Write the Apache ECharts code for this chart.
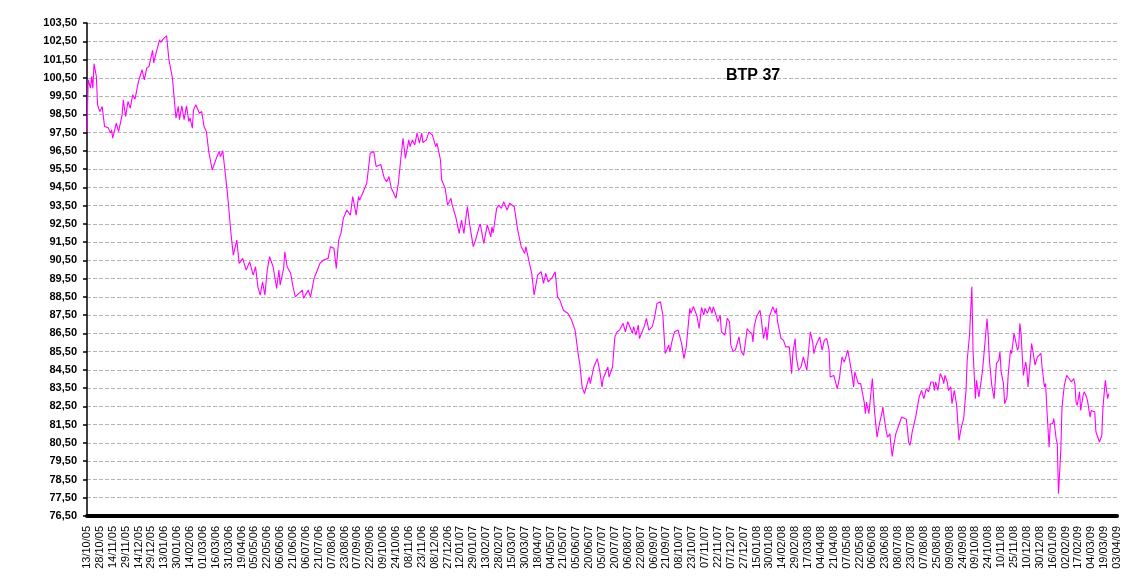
<!DOCTYPE html>
<html>
<head>
<meta charset="utf-8">
<script src="https://cdn.jsdelivr.net/npm/echarts@6/dist/echarts.min.js"></script>
<style>
html,body{margin:0;padding:0;background:#fff;}
#chart{width:1123px;height:586px;}
</style>
</head>
<body>
<div id="chart"></div>
<script>
// Tick labels (one every 11 trading days)
const tickLabels = ["13/10/05","28/10/05","14/11/05","29/11/05","14/12/05","29/12/05","13/01/06","30/01/06","14/02/06","01/03/06","16/03/06","31/03/06","19/04/06","05/05/06","22/05/06","06/06/06","21/06/06","06/07/06","21/07/06","07/08/06","23/08/06","07/09/06","22/09/06","09/10/06","24/10/06","08/11/06","23/11/06","08/12/06","27/12/06","12/01/07","29/01/07","13/02/07","28/02/07","15/03/07","30/03/07","18/04/07","04/05/07","21/05/07","05/06/07","20/06/07","05/07/07","20/07/07","06/08/07","22/08/07","06/09/07","21/09/07","08/10/07","23/10/07","07/11/07","22/11/07","07/12/07","27/12/07","15/01/08","30/01/08","14/02/08","29/02/08","17/03/08","04/04/08","21/04/08","07/05/08","22/05/08","06/06/08","23/06/08","08/07/08","23/07/08","07/08/08","25/08/08","09/09/08","24/09/08","09/10/08","24/10/08","10/11/08","25/11/08","10/12/08","30/12/08","16/01/09","02/02/09","17/02/09","04/03/09","19/03/09","03/04/09"];
const title = "BTP 37";

// [trading-day index, price]
const prices2005 = [[0,97.52],[1,100.39],[3,99.93],[4,100.57],[5,99.93],[6,101.27],[8,100.57],[9,99.02],[11,98.65],[13,98.93],[15,97.83],[18,97.77],[20,97.47],[21,97.65],[22,97.19],[25,98.01],[27,97.55],[30,98.47],[31,99.29],[33,98.38],[35,99.2],[37,98.84],[39,99.57],[41,99.33],[44,100.3],[47,100.94],[49,100.39],[51,101.03],[53,101.12],[56,102.0],[57,101.31],[59,101.85],[62,102.58],[63,102.44],[65,102.62],[68,102.8]];
const prices2006a = [[70,101.49],[73,100.48],[76,98.29],[78,98.93],[79,98.2],[81,98.96],[83,98.2],[85,98.96],[87,98.1],[88,98.3],[90,97.74],[91,98.74],[93,99.02],[96,98.56],[98,98.65],[100,97.83],[102,97.55],[104,96.46],[107,95.45],[109,95.82],[111,96.18],[113,96.46],[114,96.18],[116,96.5],[120,94.17],[121,93.44],[123,91.98],[125,90.79],[128,91.61],[130,90.33],[133,90.61],[136,89.97],[139,90.42],[142,89.69],[144,90.15],[146,89.05],[148,88.6],[150,89.33],[152,88.6],[154,89.97],[156,90.7],[159,90.15],[162,88.96],[164,89.97],[165,89.15],[168,90.06],[169,90.97],[171,90.15],[174,89.79],[176,89.05],[178,88.5],[181,88.69],[184,88.87],[185,88.42],[189,88.87],[191,88.5],[194,89.51],[195,89.42],[199,90.33],[202,90.52],[206,90.61],[208,91.25],[211,91.16],[213,90.06],[215,91.61],[217,91.98],[219,92.8],[220,92.9],[222,93.26],[225,92.98],[227,93.99],[230,92.98],[232,93.99],[233,93.8],[236,94.26],[239,94.72],[242,96.37],[245,96.46],[247,95.64]];
const prices2006b = [[251,95.75],[254,95.0],[256,94.81],[258,95.09],[260,94.45],[264,93.9],[266,94.72],[268,96.0],[270,97.19],[272,96.09],[275,97.1],[276,96.73],[278,97.1],[280,96.82],[282,97.47],[284,96.92],[286,97.47],[287,96.95],[290,97.1],[292,97.52],[295,97.37],[298,96.73],[299,96.92],[302,96.0],[303,94.9],[306,94.45],[308,93.53],[311,93.9],[312,93.53],[315,92.89],[318,91.98],[320,92.71],[322,91.98],[325,93.44],[327,92.44],[330,91.25],[332,91.61],[335,92.34],[336,92.5],[339,91.43],[342,92.44],[345,91.79],[346,92.34],[347,92.0],[350,93.35],[352,93.53],[354,93.35],[356,93.71],[359,93.26],[361,93.63],[365,93.44]];
const prices2007 = [[368,92.16],[371,91.25],[374,90.88],[375,91.25],[378,90.33],[380,89.79],[382,88.6],[383,88.7],[385,89.69],[388,89.88],[390,89.24],[392,89.79],[394,89.33],[397,89.51],[398,89.42],[400,89.88],[402,88.5],[404,88.32],[407,87.77],[411,87.59],[414,87.23],[417,86.68],[420,85.21],[421,84.85],[423,83.57],[425,83.2],[427,83.66],[429,84.11],[430,83.75],[433,84.66],[436,85.12],[438,84.48],[440,83.57],[441,84.02],[445,84.66],[446,84.11],[449,84.66],[451,86.31],[453,86.59],[455,86.68],[458,87.05],[460,86.59],[462,87.14],[463,87.05],[466,86.5],[467,86.87],[469,86.41],[471,86.96],[472,86.22],[476,86.87],[478,87.32],[480,86.68],[483,86.87],[485,87.41],[487,88.14],[490,88.23],[492,87.5],[494,85.4],[497,85.86],[498,85.49],[500,86.13],[502,86.59],[505,86.68],[508,85.95],[510,85.12],[512,85.76],[515,87.87],[516,87.6],[518,87.97],[521,87.48],[522,87.4],[523,86.77],[525,87.92],[527,87.5],[528,87.87],[530,87.6],[532,87.96],[534,87.6],[535,87.96],[537,87.59],[539,87.14],[541,87.5],[542,86.59],[545,86.41],[547,87.32],[549,87.14],[550,85.87],[552,85.5],[554,85.6],[557,86.31],[559,85.5],[561,85.3],[563,86.22],[564,86.77],[566,86.59],[568,86.5],[569,86.03],[570,86.86],[572,87.42],[573,87.5],[575,87.77],[576,87.32],[578,86.22],[580,86.86],[581,86.13]];
const prices2008 = [[583,87.42],[586,87.97],[588,87.6],[589,87.87],[590,87.14],[593,86.22],[595,86.13],[597,85.76],[600,85.76],[602,84.3],[603,85.4],[605,86.22],[606,85.2],[608,84.48],[610,84.66],[612,85.21],[615,84.48],[618,86.59],[620,86.03],[621,85.4],[623,85.87],[626,86.31],[628,85.58],[630,86.13],[632,86.22],[634,85.58],[635,84.11],[638,84.2],[641,83.48],[643,84.11],[645,85.21],[647,84.93],[650,85.58],[651,85.67],[653,84.48],[655,83.57],[656,84.39],[659,83.75],[661,83.75],[664,82.74],[665,82.1],[666,82.74],[668,82.1],[671,84.03],[673,82.1],[675,80.82],[677,81.55],[679,82.1],[680,82.46],[681,81.92],[683,81.1],[684,80.82],[686,81.0],[687,80.27],[688,79.76],[689,80.27],[690,80.2],[691,81.0],[692,81.0],[694,81.55],[696,81.92],[697,81.92],[700,81.8],[701,81.2],[702,80.55],[703,80.37],[704,80.64],[705,81.1],[706,81.0],[708,81.92],[710,82.65],[711,83.02],[713,83.38],[715,82.93],[717,83.48],[719,83.3],[721,83.84],[723,83.84],[724,83.38],[725,83.84],[727,83.38],[729,84.3],[731,84.03],[732,83.75],[733,84.2],[735,83.84],[736,83.38],[738,83.57],[739,82.65],[741,83.38],[743,82.56],[745,80.64],[746,80.64],[747,81.37],[749,81.83],[750,81.74],[751,83.38],[752,85.03],[754,86.4],[756,89.05],[757,85.58],[759,82.93],[760,83.93],[762,83.02],[765,84.39],[766,84.48],[767,85.86],[769,87.32],[770,86.31],[771,85.03],[773,83.66],[775,82.93],[777,84.85],[779,85.03],[780,85.49],[781,84.39],[783,83.75],[784,82.65],[786,83.02],[787,84.2],[789,85.58],[790,85.4],[792,86.5],[793,86.4],[795,85.58],[796,85.76],[797,87.05],[798,86.5],[800,84.2],[802,84.93],[803,84.48],[804,83.57],[806,85.12],[807,85.95],[808,85.58],[810,84.76],[812,85.21],[813,85.12],[815,85.4],[816,84.66],[818,83.57],[819,83.75],[820,82.46]];
const prices2009 = [[822,80.27],[823,81.55],[825,81.55],[826,81.83],[828,80.73],[829,80.46],[830,77.72],[832,80.1],[833,82.46],[835,83.66],[836,83.57],[837,84.2],[839,84.03],[841,83.84],[843,84.03],[844,83.75],[845,82.74],[846,82.56],[848,83.3],[849,82.28],[851,83.11],[852,83.3],[854,83.02],[855,82.74],[857,81.92],[858,82.28],[861,82.19],[862,81.1],[865,80.55],[867,80.91],[868,82.46],[870,83.93],[872,82.93],[873,83.2]];

const seriesData = [].concat(prices2005, prices2006a, prices2006b, prices2007, prices2008, prices2009);

const chart = echarts.init(document.getElementById('chart'), null, {renderer:'canvas'});
chart.setOption({
  animation: false,
  backgroundColor: '#ffffff',
  grid: {left: 87, right: 6, top: 23, bottom: 70},
  title: {
    text: title,
    left: 721, top: 63,
    textStyle: {fontFamily: 'Arial, "Liberation Sans", sans-serif', fontWeight: 'bold', fontSize: 16, color: '#000'}
  },
  xAxis: {
    type: 'value',
    min: 0, max: 880, interval: 11,
    axisLine: {show: true, onZero: false, lineStyle: {color: '#000', width: 4}},
    axisTick: {show: false},
    splitLine: {show: false},
    axisLabel: {
      rotate: 90, margin: 10,
      fontFamily: 'Arial, "Liberation Sans", sans-serif', fontSize: 11, color: '#000',
      showMinLabel: true, showMaxLabel: true,
      formatter: function (v) { return tickLabels[Math.round(v / 11)] || ''; }
    }
  },
  yAxis: {
    type: 'value',
    min: 76.5, max: 103.5, interval: 1,
    axisLine: {show: true, onZero: false, lineStyle: {color: '#000', width: 1.5}},
    axisTick: {show: true, length: 4, lineStyle: {color: '#000', width: 1.5}},
    splitLine: {show: true, lineStyle: {color: '#b4b4b4', width: 1, type: [4, 2]}},
    axisLabel: {
      margin: 10,
      fontFamily: 'Arial, "Liberation Sans", sans-serif', fontSize: 11, fontWeight: 'bold', color: '#000',
      formatter: function (v) { return v.toFixed(2).replace('.', ','); }
    }
  },
  series: [{
    type: 'line',
    data: seriesData,
    showSymbol: false,
    smooth: false,
    lineStyle: {color: '#ff00ff', width: 1.1},
    itemStyle: {color: '#ff00ff'}
  }]
});
</script>
</body>
</html>
